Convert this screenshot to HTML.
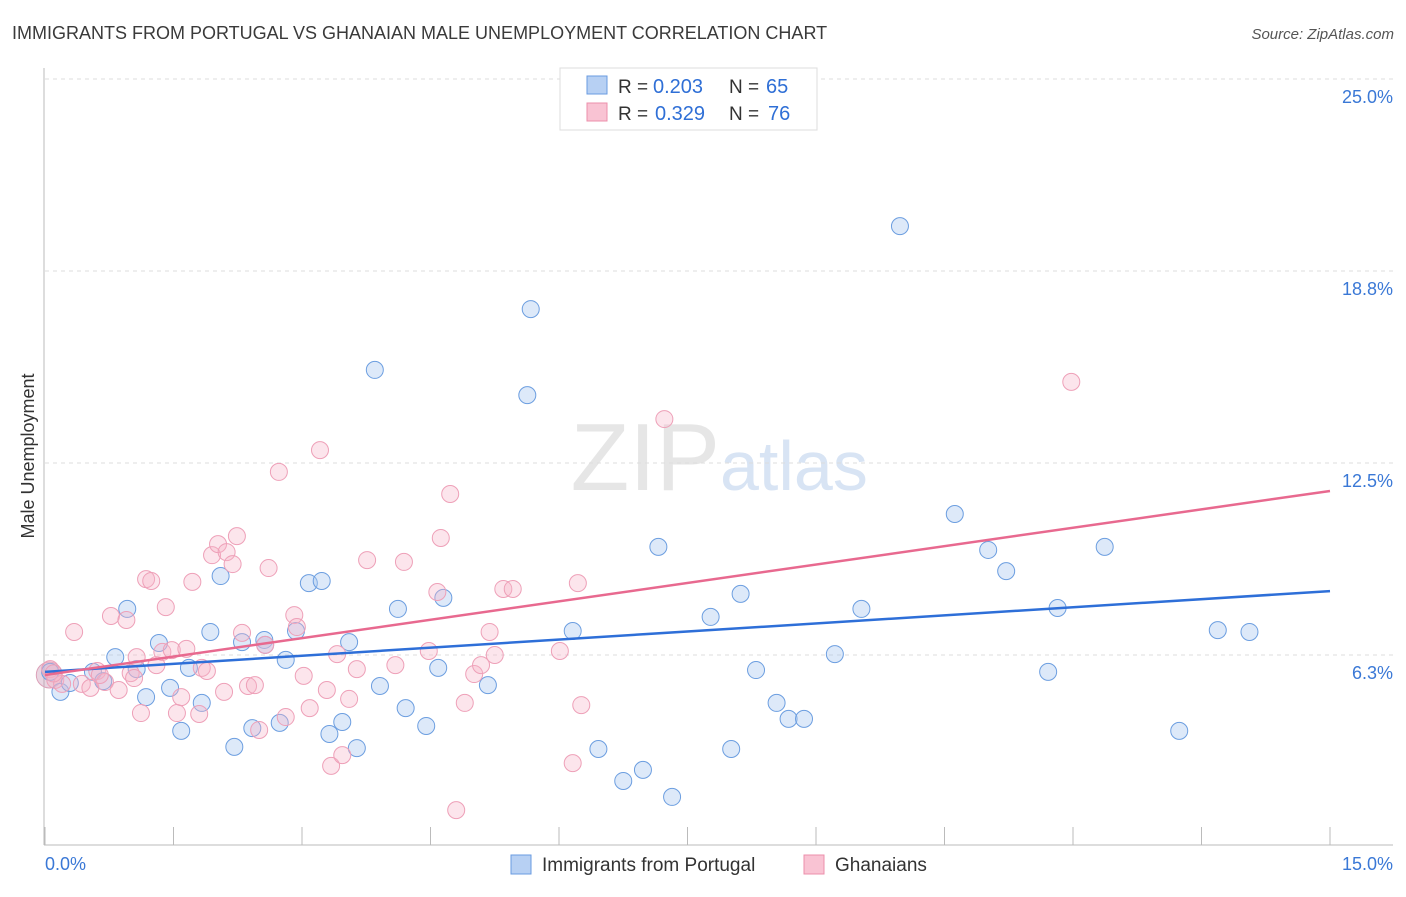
<!DOCTYPE html>
<html><head><meta charset="utf-8"><style>
body{margin:0;background:#fff;font-family:"Liberation Sans",sans-serif}
svg text{font-family:"Liberation Sans",sans-serif}
</style></head><body>
<svg id="c" width="1406" height="892" viewBox="0 0 1406 892">
<text x="12" y="39" font-size="18" fill="#3a3a3a">IMMIGRANTS FROM PORTUGAL VS GHANAIAN MALE UNEMPLOYMENT CORRELATION CHART</text>
<text x="1394" y="39" font-size="15" fill="#555" text-anchor="end" font-style="italic">Source: ZipAtlas.com</text>
<text x="720" y="490" font-size="96" fill="#e6e6e6" text-anchor="end" font-family="Liberation Serif">ZIP</text>
<text x="720" y="490" font-size="70" fill="#d8e4f4">atlas</text>
<text transform="translate(34,456) rotate(-90)" font-size="18" fill="#333" text-anchor="middle">Male Unemployment</text>
<g id="grid"></g><g id="pts"></g><g id="lines"></g>
<g>
<rect x="560" y="68" width="257" height="62" fill="#fff" stroke="#ddd"/>
<rect x="587" y="76" width="20" height="18" fill="#b7d0f3" stroke="#6a9be0"/>
<rect x="587" y="103" width="20" height="18" fill="#f9c3d3" stroke="#ec8fab"/>
<text x="618" y="93" font-size="19" fill="#333">R =</text><text x="653" y="93" font-size="20" fill="#2f6fd6">0.203</text>
<text x="729" y="93" font-size="19" fill="#333">N =</text><text x="766" y="93" font-size="20" fill="#2f6fd6">65</text>
<text x="618" y="120" font-size="19" fill="#333">R =</text><text x="655" y="120" font-size="20" fill="#2f6fd6">0.329</text>
<text x="729" y="120" font-size="19" fill="#333">N =</text><text x="768" y="120" font-size="20" fill="#2f6fd6">76</text>
</g>
<g>
<rect x="511" y="855" width="20" height="19" fill="#b7d0f3" stroke="#6a9be0"/>
<text x="542" y="871" font-size="19" fill="#333">Immigrants from Portugal</text>
<rect x="804" y="855" width="20" height="19" fill="#f9c3d3" stroke="#ec8fab"/>
<text x="835" y="871" font-size="19" fill="#333">Ghanaians</text>
</g>
<text x="45" y="870" font-size="18" fill="#3a78d6">0.0%</text>
<text x="1393" y="870" font-size="18" fill="#3a78d6" text-anchor="end">15.0%</text>
</svg>
<script>
const yTicks=[25.0,18.8,12.5,6.3];
const yTickVals=[25,18.75,12.5,6.25];
const blueX=[0.06,0.18,0.29,0.56,0.68,0.82,0.96,1.07,1.18,1.33,1.46,1.59,1.68,1.83,1.93,2.05,2.21,2.30,2.42,2.56,2.57,2.74,2.81,2.93,3.08,3.23,3.32,3.47,3.55,3.64,3.85,3.91,4.12,4.21,4.45,4.59,4.65,5.17,5.67,5.63,6.16,6.46,6.75,6.98,7.16,7.32,7.77,8.01,8.12,8.30,8.54,8.68,8.86,9.22,9.53,9.98,10.62,11.01,11.22,11.71,11.82,12.37,13.24,13.69,14.06];
const blueY=[5.70,5.05,5.34,5.70,5.40,6.18,7.75,5.79,4.88,6.64,5.18,3.78,5.83,4.69,7.00,8.82,3.26,6.67,3.87,6.74,6.58,4.04,6.09,7.03,8.59,8.66,3.68,4.07,6.67,3.22,15.53,5.24,7.75,4.52,3.94,5.83,8.11,5.27,17.51,14.71,7.03,3.19,2.15,2.51,9.77,1.63,7.49,3.19,8.24,5.76,4.69,4.17,4.17,6.28,7.75,20.21,10.84,9.67,8.98,5.70,7.78,9.77,3.78,7.06,7.00];
const pinkX=[0.06,0.12,0.20,0.34,0.43,0.53,0.61,0.70,0.77,0.86,0.95,1.00,1.07,1.12,1.18,1.24,1.30,1.37,1.41,1.48,1.54,1.59,1.65,1.72,1.80,1.83,1.89,1.95,2.02,2.09,2.12,2.19,2.24,2.30,2.37,2.45,2.50,2.57,2.61,2.73,2.81,2.91,2.94,3.02,3.09,3.21,3.29,3.34,3.41,3.47,3.55,3.64,3.76,4.09,4.19,4.48,4.58,4.62,4.73,4.80,4.90,5.01,5.09,5.19,5.25,5.35,5.46,6.01,6.16,6.22,6.26,7.23,11.98,0.64,1.04,0.10];
const pinkY=[5.79,5.44,5.31,7.00,5.31,5.18,5.73,5.37,7.52,5.11,7.39,5.66,6.18,4.36,8.72,8.66,5.92,6.35,7.81,6.41,4.36,4.88,6.45,8.63,4.33,5.83,5.73,9.50,9.86,5.05,9.60,9.21,10.12,6.97,5.24,5.27,3.81,6.58,9.08,12.21,4.23,7.55,7.16,5.57,4.52,12.92,5.11,2.64,6.28,2.99,4.82,5.79,9.34,5.92,9.28,6.38,8.30,10.06,11.49,1.20,4.69,5.63,5.92,7.00,6.25,8.40,8.40,6.38,2.73,8.59,4.62,13.93,15.14,5.60,5.50,5.65];
const blueTrend=[5.70,8.33];
const pinkTrend=[5.60,11.59];
const xTickVals=[0,1.5,3,4.5,6,7.5,9,10.5,12,13.5,15];
const NS='http://www.w3.org/2000/svg';
const X=v=>45+v/15*1285, Y=v=>847-v/6.25*192;
function mk(tag,at,parent){const e=document.createElementNS(NS,tag);for(const k in at)e.setAttribute(k,at[k]);document.getElementById(parent).appendChild(e);return e;}
yTickVals.forEach((v,i)=>{
 const l=mk('line',{x1:45,x2:1393,y1:Y(v),y2:Y(v),stroke:'#ddd','stroke-dasharray':'4,4'},'grid');
 
 
 const t=mk('text',{x:1393,y:Y(v)+24,'font-size':18,fill:'#3a78d6','text-anchor':'end'},'grid');
 t.textContent=yTicks[i].toFixed(1)+'%';
 
 
});
const ax=mk('line',{x1:44,x2:44,y1:68,y2:845,stroke:'#bbb'},'grid');


const bx=mk('line',{x1:44,x2:1393,y1:845,y2:845,stroke:'#bbb'},'grid');


xTickVals.forEach(v=>{
 const t=mk('line',{x1:X(v),x2:X(v),y1:827,y2:845,stroke:'#bbb'},'grid');
 
 
});
const big=mk('circle',{cx:X(0.05),cy:Y(5.6),r:13,fill:'rgba(200,150,180,0.4)',stroke:'#dca0b8'},'pts');


blueX.forEach((x,i)=>{
 const c=mk('circle',{cx:X(x),cy:Y(blueY[i]),r:8.5,fill:'rgba(170,200,240,0.4)',stroke:'#6c9ee0','stroke-width':1},'pts');
 
 
});
pinkX.forEach((x,i)=>{
 const c=mk('circle',{cx:X(x),cy:Y(pinkY[i]),r:8.5,fill:'rgba(245,180,200,0.35)',stroke:'#eea0b8','stroke-width':1},'pts');
 
 
});
const bl=mk('line',{x1:X(0),y1:Y(blueTrend[0]),x2:X(15),y2:Y(blueTrend[1]),stroke:'#2e6fd8','stroke-width':2.5},'lines');


const pl=mk('line',{x1:X(0),y1:Y(pinkTrend[0]),x2:X(15),y2:Y(pinkTrend[1]),stroke:'#e8698f','stroke-width':2.5},'lines');


</script>
</body></html>
